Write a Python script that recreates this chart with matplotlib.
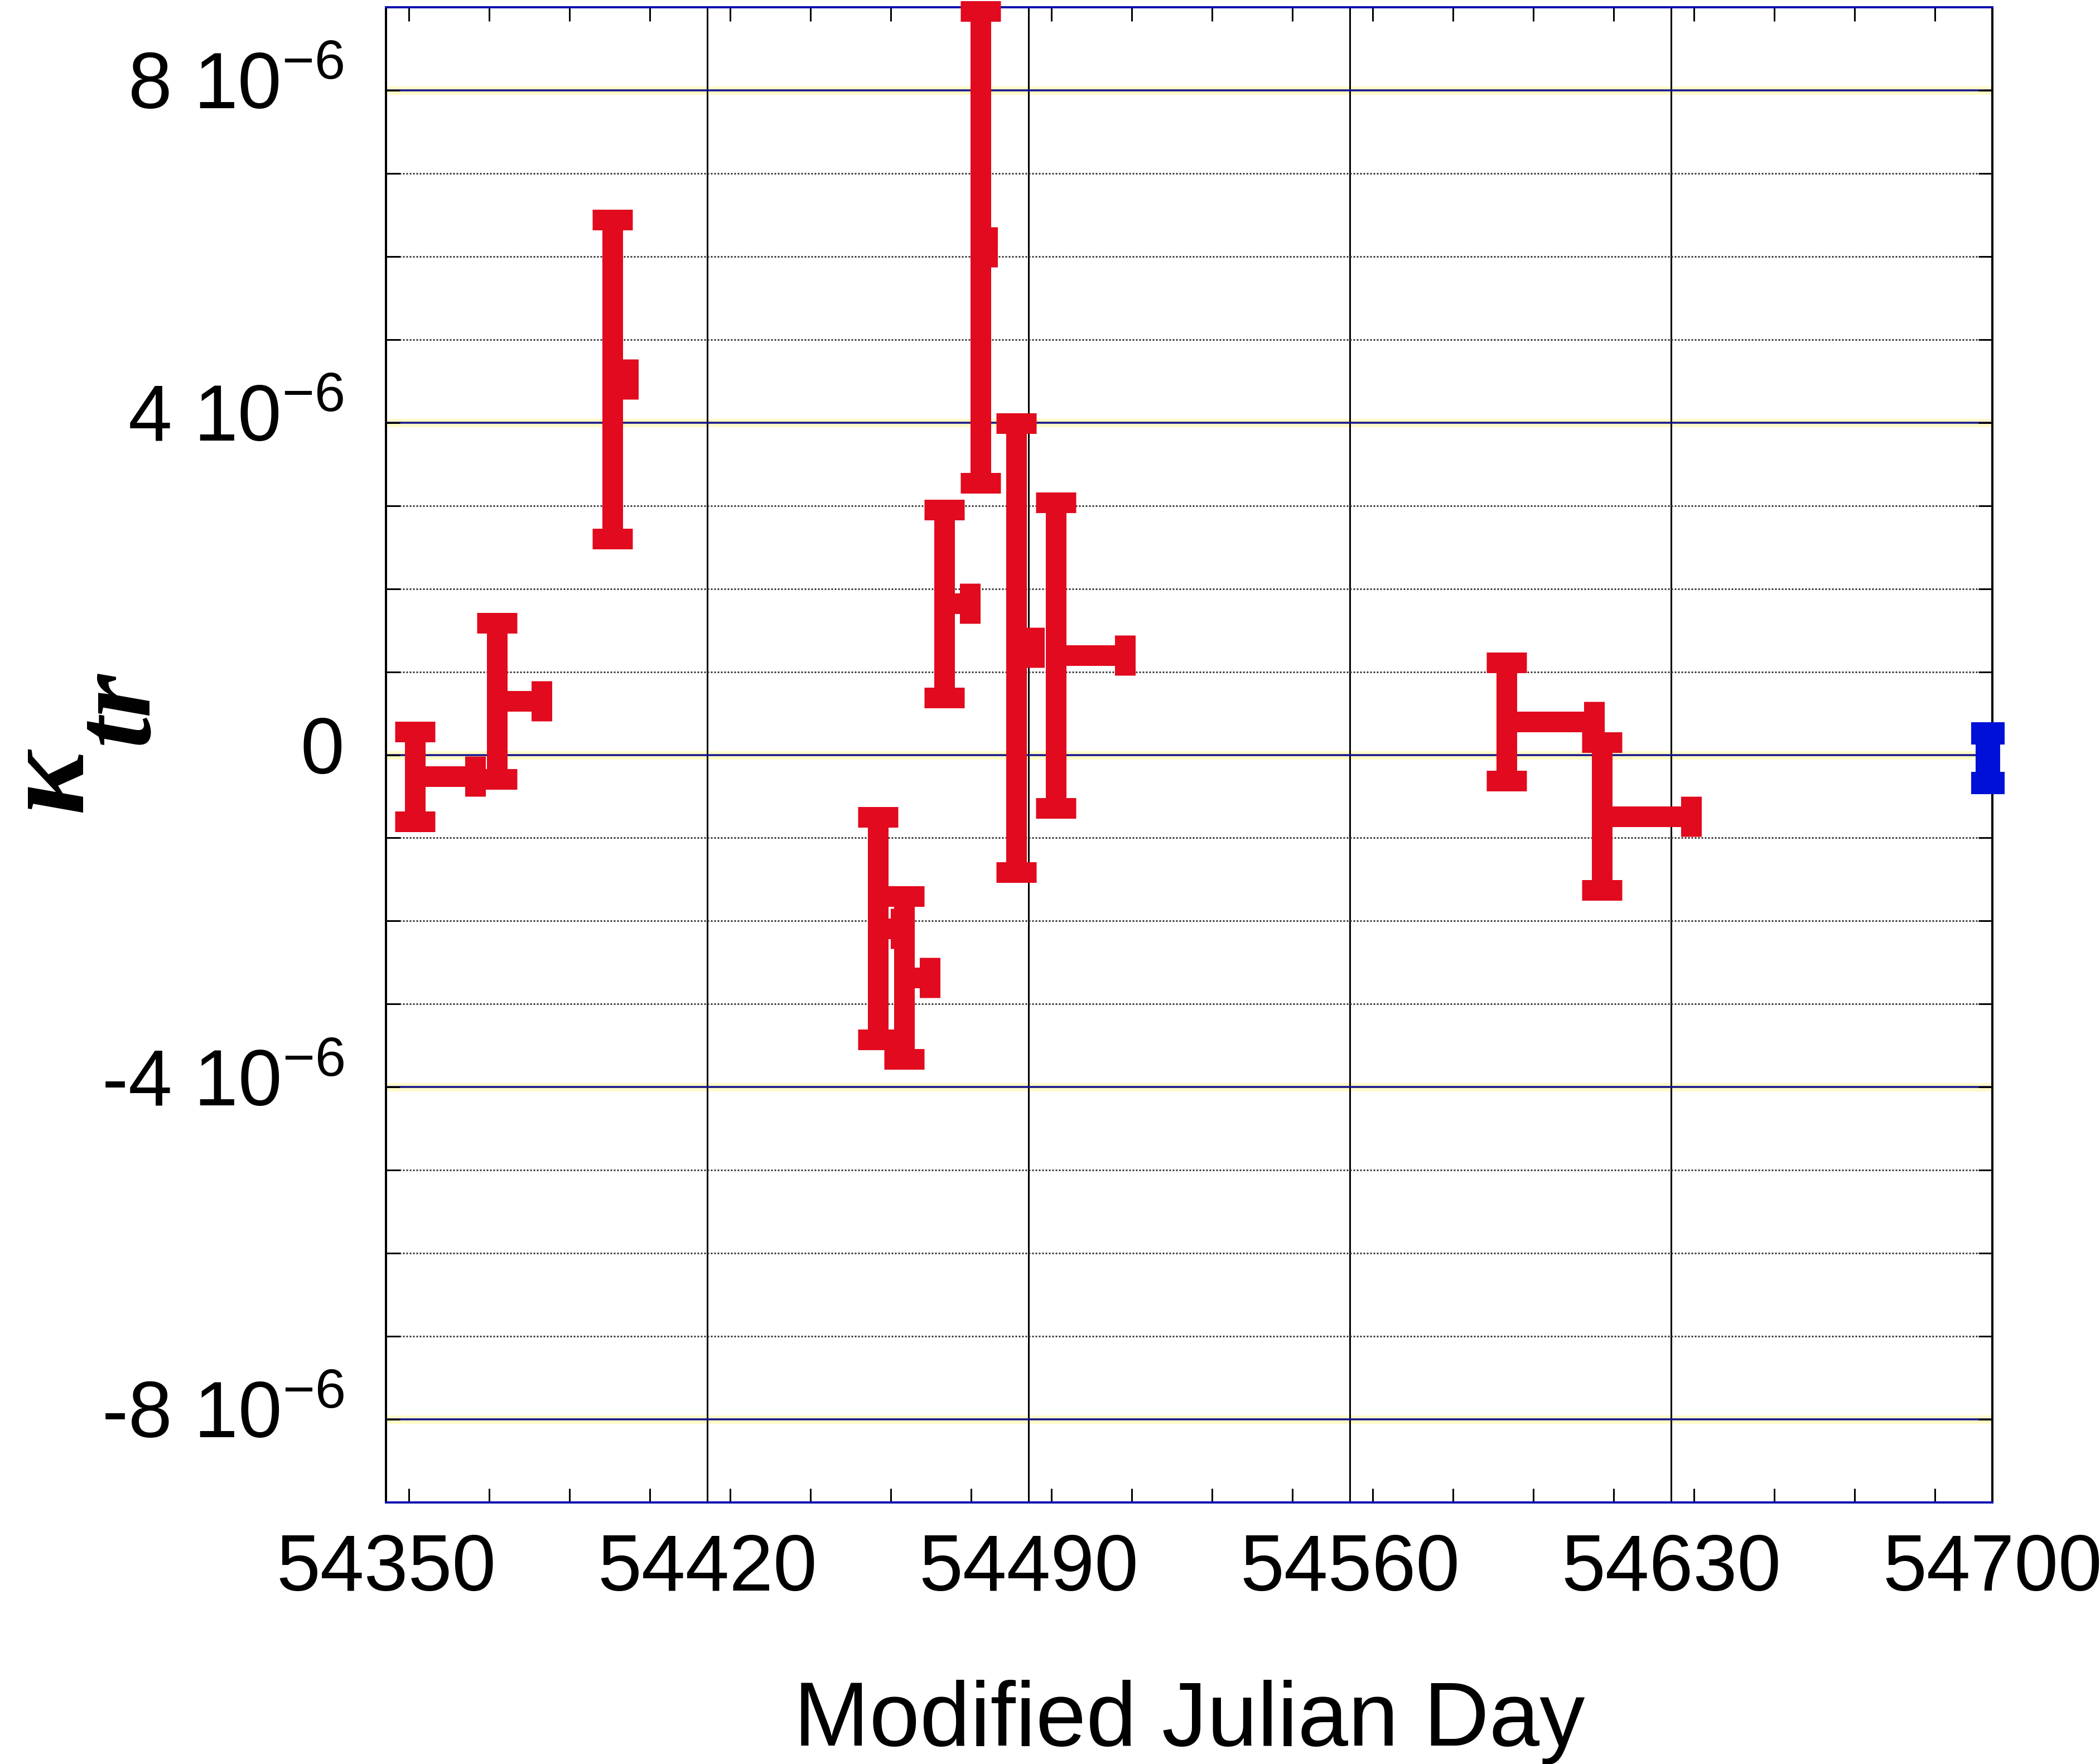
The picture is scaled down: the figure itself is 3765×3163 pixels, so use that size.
import numpy as np
import matplotlib
matplotlib.use("Agg")
import matplotlib.pyplot as plt
import matplotlib.transforms as mtransforms
from matplotlib.ticker import FixedLocator, FixedFormatter, MultipleLocator

# ---------------- data (kappa in units of 1e-6) ----------------
mjd = [54356.3, 54374.2, 54399.3, 54457.2, 54462.9, 54471.7,
       54479.5, 54487.3, 54496.0, 54594.1, 54614.9]
kappa = [-0.26, 0.65, 4.52, -2.09, -2.68, 1.82,
         6.11, 1.29, 1.20, 0.40, -0.74]
kappa_err = [0.54, 0.94, 1.92, 1.34, 0.98, 1.13,
             2.84, 2.70, 1.84, 0.71, 0.89]
span_days = [13.1, 9.7, 3.5, 5.0, 5.6, 5.5,
             1.5, 3.9, 15.0, 19.1, 19.5]

ref_mjd = [54699.0]
ref_kappa = [-0.04]
ref_err = [0.30]

SCALE = 1e-6
xtick_values = [54350, 54420, 54490, 54560, 54630, 54700]
xtick_labels = ["54350", "54420", "54490", "54560", "54630", "54700"]
ytick_values = [-8, -4, 0, 4, 8]
ytick_labels = [r"-8 10$^{-6}$", r"-4 10$^{-6}$", "0", r"4 10$^{-6}$", r"8 10$^{-6}$"]

RED = "#E10A1E"
BLUE = "#0010D8"
NAVY = "#14148C"

plt.rcParams["font.family"] = ["Liberation Sans", "DejaVu Sans"]
plt.rcParams["mathtext.fontset"] = "custom"
plt.rcParams["mathtext.rm"] = "Liberation Sans"
plt.rcParams["mathtext.it"] = "Liberation Sans:italic"
plt.rcParams["mathtext.bf"] = "Liberation Serif:italic:bold"

DPI = 300
W, H = 3765, 3163
fig = plt.figure(figsize=(W / DPI, H / DPI), dpi=DPI)
L, R, T, B = 692, 3572, 13, 2694
ax = fig.add_axes([L / W, 1 - B / H, (R - L) / W, (B - T) / H])

ax.set_xlim(54350, 54700)
ax.set_ylim(-9 * SCALE, 9 * SCALE)

px = 72.0 / DPI  # points per pixel

# grid
ax.set_axisbelow(True)
for v in ytick_values:
    ax.axhline(v * SCALE, color="#FFFAC8", lw=15 * px, zorder=0.3)
ax.xaxis.set_major_locator(FixedLocator(xtick_values))
ax.xaxis.set_major_formatter(FixedFormatter(xtick_labels))
ax.xaxis.set_minor_locator(MultipleLocator(17.5))
ax.yaxis.set_major_locator(FixedLocator([v * SCALE for v in ytick_values]))
ax.yaxis.set_major_formatter(FixedFormatter(ytick_labels))
ax.yaxis.set_minor_locator(MultipleLocator(1 * SCALE))

ax.yaxis.grid(True, which="major", color=NAVY, lw=3.5 * px)
ax.yaxis.grid(True, which="minor", color="#3a3a3a", lw=3 * px, ls=(0, (1, 1)))
ax.xaxis.grid(True, which="major", color="black", lw=3 * px)

ax.tick_params(axis="both", which="both", direction="in", top=True, right=True,
               width=3 * px, length=25 * px, color="black")
ax.tick_params(axis="x", which="major", labelsize=34, pad=13)
ax.tick_params(axis="y", which="major", labelsize=34, pad=18)

for s in ("left", "right"):
    ax.spines[s].set_color("black")
    ax.spines[s].set_linewidth(4 * px)
for s in ("top", "bottom"):
    ax.spines[s].set_color("#1010B0")
    ax.spines[s].set_linewidth(4 * px)

# data
lw = 37 * px
y = np.array(kappa) * SCALE
yerr = np.array(kappa_err) * SCALE
xerr = [np.zeros(len(mjd)), np.array(span_days)]
eb = ax.errorbar(mjd, y, yerr=yerr, xerr=xerr, fmt="none", ecolor=RED,
                 elinewidth=lw, capsize=36 * px, capthick=lw, zorder=3)
for a in list(eb.lines[1]) + list(eb.lines[2]):
    a.set_clip_on(False)

eb2 = ax.errorbar(ref_mjd, np.array(ref_kappa) * SCALE, yerr=np.array(ref_err) * SCALE,
                  fmt="none", ecolor=BLUE, elinewidth=44 * px, capsize=30 * px,
                  capthick=40 * px, zorder=4)
for a in list(eb2.lines[1]) + list(eb2.lines[2]):
    a.set_clip_on(False)

# labels
ax.set_xlabel("Modified Julian Day", fontsize=39)
ax.xaxis.label.set_va("baseline")
ax.xaxis.set_label_coords(0.5, (B - 3130) / (B - T))

# shift y tick labels slightly upward as in the reference
offset = mtransforms.ScaledTranslation(0, 4.5 / 72, fig.dpi_scale_trans)
for lab in ax.get_yticklabels():
    lab.set_transform(lab.get_transform() + offset)

fig.text(150 / W, 1 - 1462 / H, r"$\mathbf{κ}$", rotation=90, rotation_mode="anchor",
         ha="left", va="baseline", fontsize=52)
fig.text(262 / W, 1 - 1335 / H, "tr", rotation=90, rotation_mode="anchor",
         ha="left", va="baseline", fontsize=48, family="Liberation Serif",
         style="italic", weight="bold")

fig.savefig("out.png", dpi=DPI)
